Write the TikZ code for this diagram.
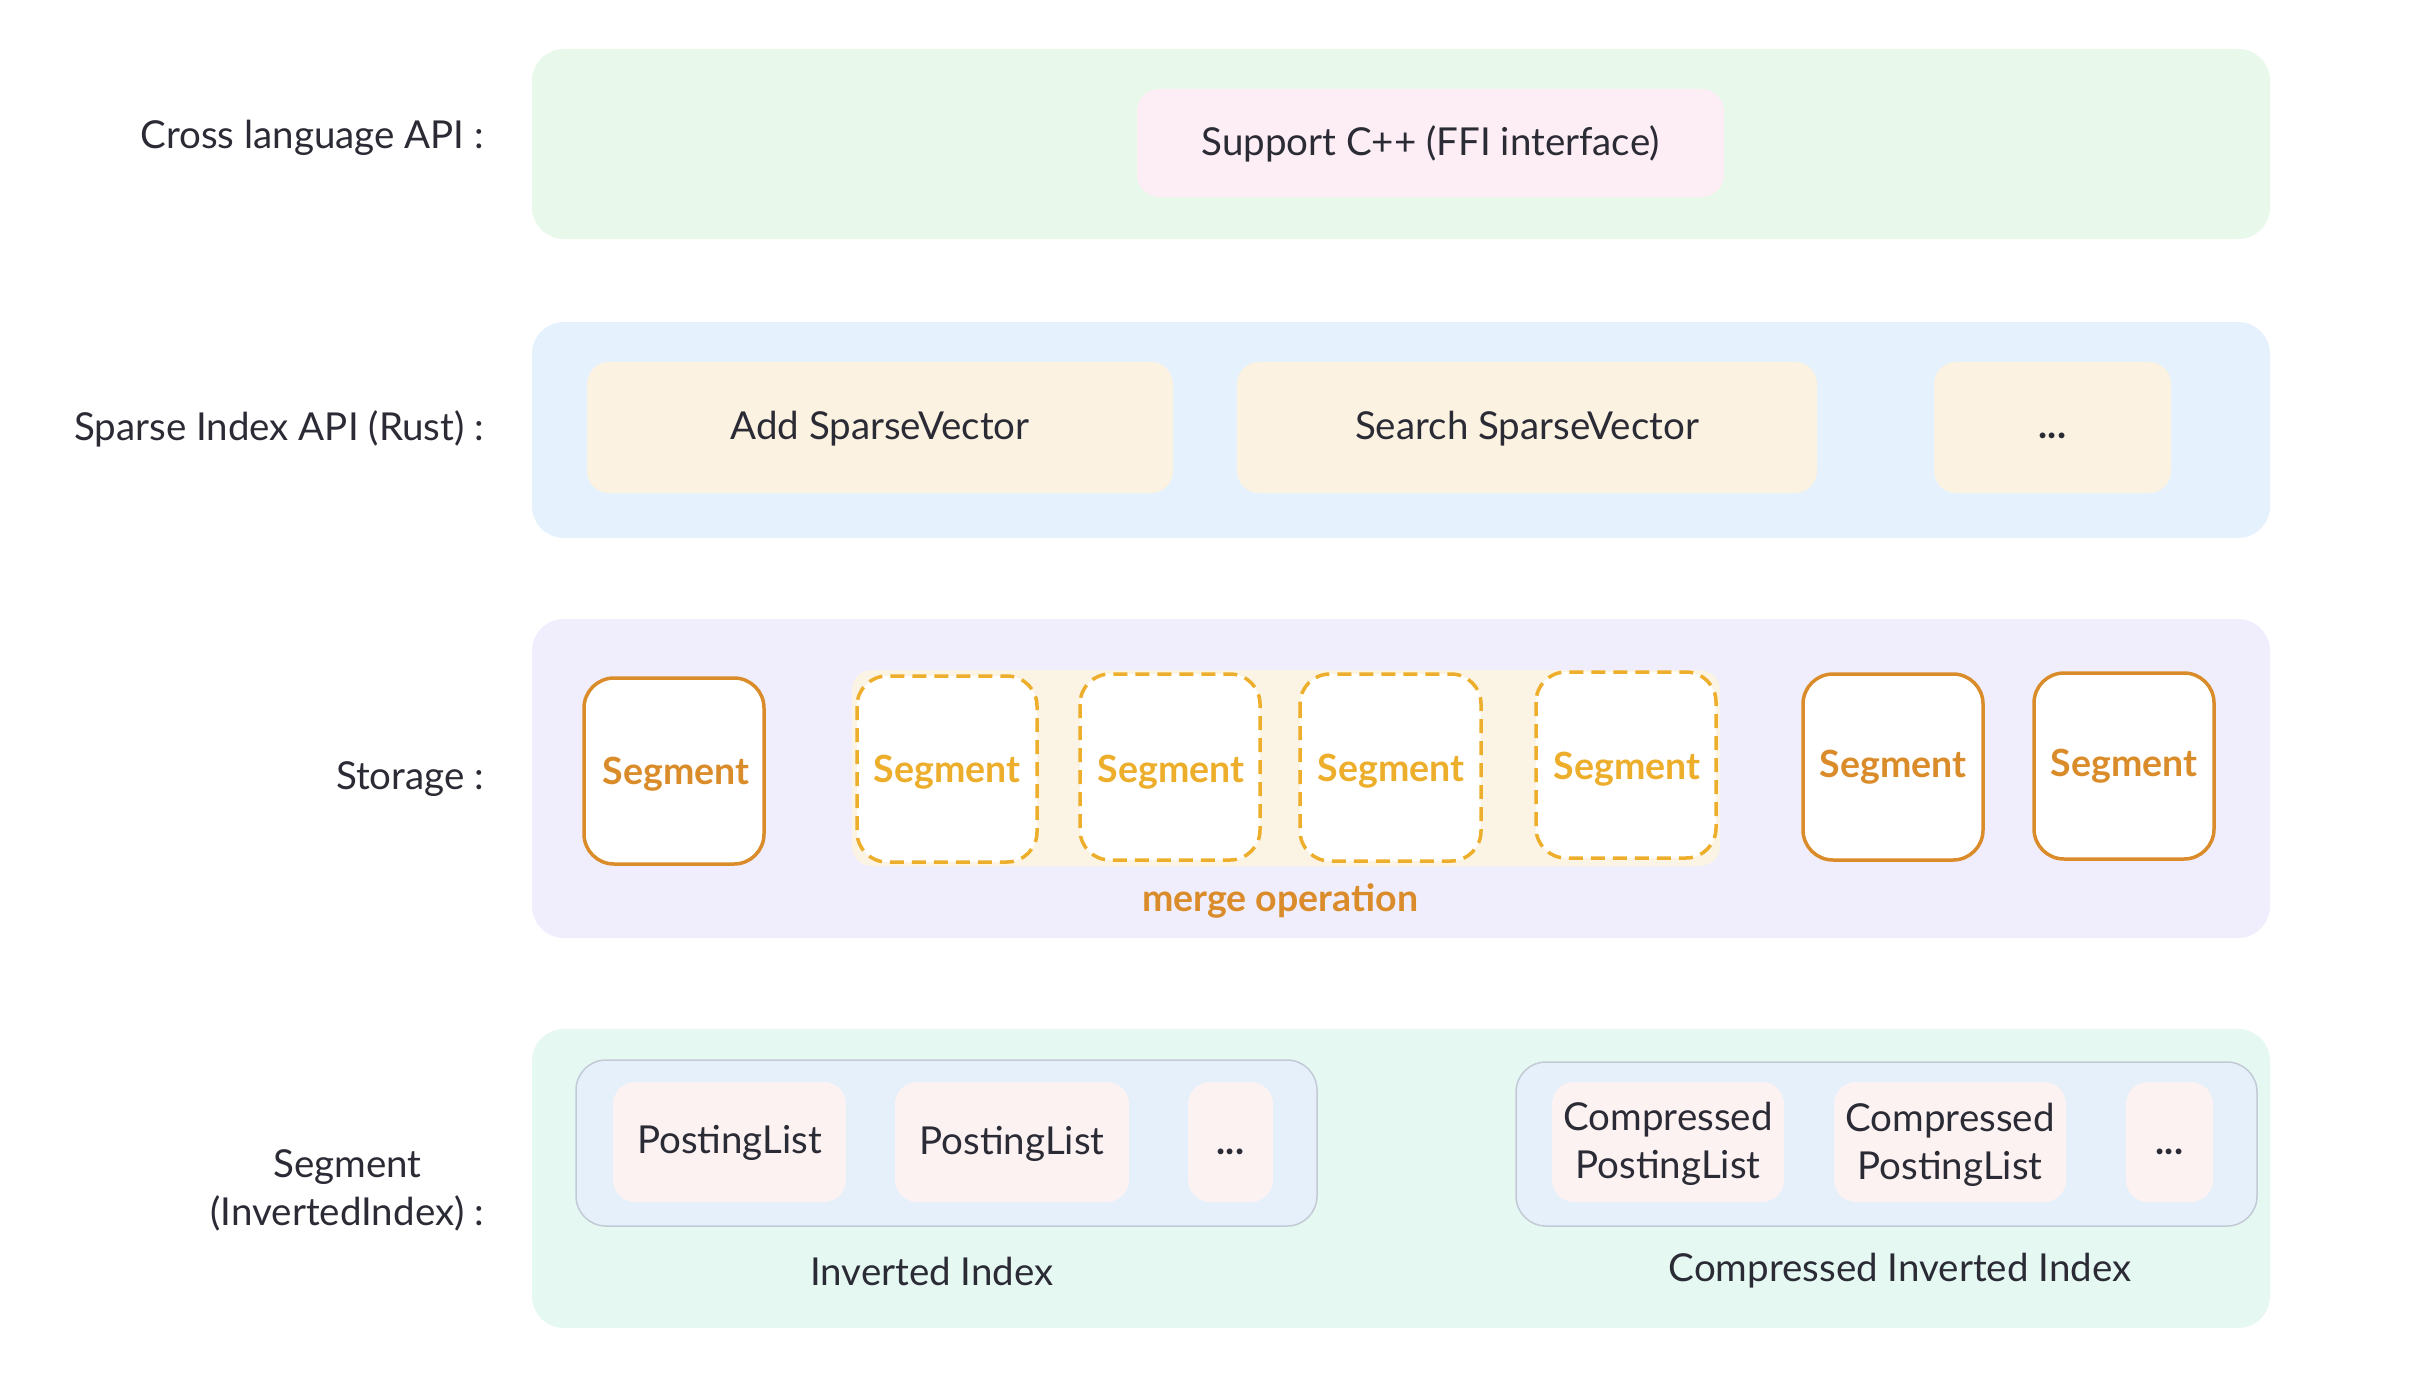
\documentclass[tikz,border=0pt]{standalone}
\usepackage{fontspec}
\setmainfont{Lato}
\definecolor{txt}{HTML}{2B2B36}
\definecolor{lgreen}{HTML}{E8F8EA}
\definecolor{lblue}{HTML}{E5F1FC}
\definecolor{lpurple}{HTML}{F0EEFC}
\definecolor{lmint}{HTML}{E5F8F2}
\definecolor{lpink}{HTML}{FCEEF4}
\definecolor{lcream}{HTML}{FBF2E1}
\definecolor{lmerge}{HTML}{FBF3E3}
\definecolor{segor}{HTML}{DB8C2A}
\definecolor{segyl}{HTML}{EDAE2C}
\definecolor{grpborder}{HTML}{C3CAD6}
\definecolor{grpfill}{HTML}{E5F0FB}
\definecolor{plfill}{HTML}{FCF2F2}
\begin{document}
\begin{tikzpicture}[x=1pt,y=-1pt,
  every node/.style={font=\fontsize{38.5}{48}\selectfont, text=txt, inner sep=0pt, outer sep=0pt},
  layer/.style={fill=#1, draw=none, rounded corners=32pt},
  rowlabel/.style={anchor=east, align=right},
  card/.style={fill=#1, draw=none, rounded corners=22pt},
  segsolid/.style={draw=segor, line width=3.5pt, fill=white, rounded corners=30pt},
  segdash/.style={draw=segyl, line width=3.5pt, fill=white, rounded corners=30pt, dash pattern=on 14pt off 8pt},
  segtxt/.style={font=\fontsize{37.5}{46}\selectfont\bfseries, text=#1},
  dotstxt/.style={font=\fontsize{38.5}{48}\selectfont\bfseries},
  grp/.style={fill=grpfill, draw=grpborder, line width=1.5pt, rounded corners=30pt}
]
\useasboundingbox (0,0) rectangle (2416,1386);
\fill[white] (0,0) rectangle (2416,1386);

% layers
\draw[layer=lgreen] (532,49) rectangle (2270,239);
\draw[layer=lblue] (532,322) rectangle (2270,538);
\draw[layer=lpurple] (532,619) rectangle (2270,938);
\draw[layer=lmint] (532,1029) rectangle (2270,1328);

% row labels
\node[rowlabel] (l1) at (484,138) {Cross language API :};
\node[rowlabel] (l2) at (484,429) {Sparse Index API (Rust) :};
\node[rowlabel] (l3) at (484,779) {Storage :};
\node[anchor=east, align=center] (l4) at (484,1190) {Segment\\(InvertedIndex) :};

% layer 1
\draw[card=lpink] (1137,89) rectangle (1724,197);
\node (ffi) at (1430.5,144) {Support C++ (FFI interface)};

% layer 2
\draw[card=lcream] (587,362) rectangle (1173,493);
\node (add) at (880,429) {Add SparseVector};
\draw[card=lcream] (1237,362) rectangle (1817,493);
\node (search) at (1527,429) {Search SparseVector};
\draw[card=lcream] (1934,362) rectangle (2171,493);
\node[dotstxt] (dots2) at (2052.5,436) {...};

% layer 3
\fill[lmerge, rounded corners=20pt] (852,670) rectangle (1720,866);
\draw[segsolid] (584,678) rectangle (764,864);
\node[segtxt=segor] (s1) at (676,774) {Segment};
\draw[segdash] (857,676) rectangle (1037,862);
\node[segtxt=segyl] (s2) at (947,772) {Segment};
\draw[segdash] (1080,674) rectangle (1260,860);
\node[segtxt=segyl] (s3) at (1171,772) {Segment};
\draw[segdash] (1300,674) rectangle (1481,861);
\node[segtxt=segyl] (s4) at (1391,771) {Segment};
\draw[segdash] (1536,672) rectangle (1716,858);
\node[segtxt=segyl] (s5) at (1627,769) {Segment};
\draw[segsolid] (1803,674) rectangle (1983,860);
\node[segtxt=segor] (s6) at (1893,767) {Segment};
\draw[segsolid] (2034,673) rectangle (2214,859);
\node[segtxt=segor] (s7) at (2124,766) {Segment};
\node[text=segor, font=\fontsize{37.5}{46}\selectfont\bfseries] (merge) at (1280,901) {merge operation};

% layer 4
\draw[grp] (576,1060) rectangle (1317,1226);
\draw[card=plfill] (613,1082) rectangle (846,1202);
\node (p1) at (729.5,1143) {PostingList};
\draw[card=plfill] (895,1082) rectangle (1129,1202);
\node (p2) at (1012,1144) {PostingList};
\draw[card=plfill] (1188,1082) rectangle (1273,1202);
\node[dotstxt] (p3) at (1230.5,1152) {...};
\node (inv) at (932,1271) {Inverted Index};

\draw[grp] (1516,1062) rectangle (2257,1226);
\draw[card=plfill] (1552,1082) rectangle (1784,1202);
\node[align=center] (c1) at (1668,1144) {Compressed\\PostingList};
\draw[card=plfill] (1834,1082) rectangle (2066,1202);
\node[align=center] (c2) at (1950,1145) {Compressed\\PostingList};
\draw[card=plfill] (2126,1082) rectangle (2213,1202);
\node[dotstxt] (c3) at (2169.5,1152) {...};
\node (cinv) at (1900,1271) {Compressed Inverted Index};
\end{tikzpicture}
\end{document}
